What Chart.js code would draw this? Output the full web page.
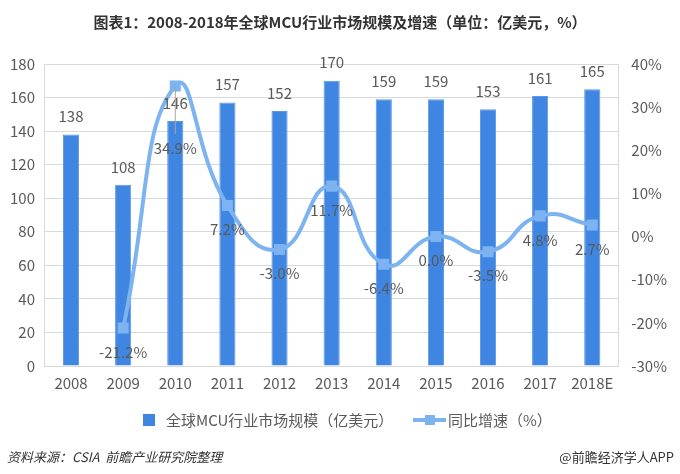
<!DOCTYPE html>
<html>
<head>
<meta charset="utf-8">
<script src="https://cdn.jsdelivr.net/npm/chart.js@4/dist/chart.umd.min.js"></script>
<style>
  html, body { margin: 0; padding: 0; background: #fff; }
  #wrap { position: relative; width: 680px; height: 474px; }
</style>
</head>
<body>
<div id="wrap"><canvas id="c" width="680" height="474"></canvas></div>
<script>
const years = ["2008", "2009", "2010", "2011", "2012", "2013", "2014", "2015", "2016", "2017", "2018E"];
const marketSize = [138, 108, 146, 157, 152, 170, 159, 159, 153, 161, 165];
const growthRate = [null, -21.2, 34.9, 7.2, -3.0, 11.7, -6.4, 0.0, -3.5, 4.8, 2.7];
const leftTicks = [0, 20, 40, 60, 80, 100, 120, 140, 160, 180];
const rightTicks = [-30, -20, -10, 0, 10, 20, 30, 40];

const FONT = '"Microsoft YaHei", "Noto Sans CJK SC", sans-serif';
const BAR = "#3f86e2";
const LINE = "#7db3f0";
const TXT = "#595959";

const extras = {
  id: "extras",
  afterDatasetsDraw(chart) {
    const ctx = chart.ctx;
    ctx.save();
    ctx.font = "15px " + FONT;
    ctx.fillStyle = TXT;
    ctx.textAlign = "center";
    ctx.textBaseline = "middle";
    // bar value labels (bars are dataset 1)
    chart.getDatasetMeta(1).data.forEach((el, i) => {
      ctx.fillText(String(marketSize[i]), el.x, el.y - 18);
    });
    // growth labels, under the points
    chart.getDatasetMeta(0).data.forEach((el, i) => {
      const v = growthRate[i];
      if (v === null) return;
      let off = 24;
      if (i === 2) {
        off = 62;
        ctx.strokeStyle = "#a6a6a6";
        ctx.lineWidth = 1;
        ctx.beginPath();
        ctx.moveTo(el.x, el.y);
        ctx.lineTo(el.x, el.y + off - 14);
        ctx.stroke();
      }
      ctx.fillStyle = TXT;
      ctx.fillText(v.toFixed(1) + "%", el.x, el.y + off);
    });
    ctx.restore();
  },
  afterDraw(chart) {
    const ctx = chart.ctx;
    ctx.save();
    // title
    ctx.fillStyle = "#333";
    ctx.font = "bold 15px " + FONT;
    ctx.textAlign = "center";
    ctx.textBaseline = "middle";
    ctx.fillText("图表1：2008-2018年全球MCU行业市场规模及增速（单位：亿美元，%）", 340, 22);

    // legend
    const ly = 420;
    ctx.font = "15px " + FONT;
    ctx.textAlign = "left";
    ctx.fillStyle = BAR;
    ctx.fillRect(143, ly - 6, 12, 12);
    ctx.fillStyle = TXT;
    ctx.fillText("全球MCU行业市场规模（亿美元）", 166, ly);
    ctx.strokeStyle = LINE;
    ctx.lineWidth = 4;
    ctx.beginPath();
    ctx.moveTo(413, ly);
    ctx.lineTo(446, ly);
    ctx.stroke();
    ctx.fillStyle = LINE;
    ctx.fillRect(425, ly - 5, 10, 10);
    ctx.fillStyle = TXT;
    ctx.fillText("同比增速（%）", 448, ly);

    // footer
    ctx.fillStyle = "#333";
    ctx.font = "italic 13px " + FONT;
    ctx.fillText("资料来源：CSIA  前瞻产业研究院整理", 7, 457);
    ctx.font = "13px " + FONT;
    ctx.textAlign = "right";
    ctx.fillText("@前瞻经济学人APP", 674, 457);
    ctx.restore();
  }
};

new Chart(document.getElementById("c"), {
  data: {
    labels: years,
    datasets: [
      {
        type: "line",
        label: "同比增速（%）",
        data: growthRate,
        yAxisID: "y1",
        borderColor: LINE,
        backgroundColor: LINE,
        borderWidth: 4,
        tension: 0.5,
        pointStyle: "rect",
        pointRadius: 5,
        pointHoverRadius: 5,
        spanGaps: true,
        order: 0
      },
      {
        type: "bar",
        label: "全球MCU行业市场规模（亿美元）",
        data: marketSize,
        yAxisID: "y",
        backgroundColor: BAR,
        borderColor: "#5b97e6",
        borderWidth: 1,
        barPercentage: 0.62,
        categoryPercentage: 0.5,
        order: 1
      }
    ]
  },
  options: {
    responsive: false,
    animation: false,
    layout: { padding: { top: 64, bottom: 74, left: 0, right: 0 } },
    plugins: {
      legend: { display: false },
      tooltip: { enabled: false }
    },
    scales: {
      x: {
        grid: { display: false, drawTicks: false },
        border: { color: "#d9d9d9" },
        ticks: { color: TXT, font: { size: 15, family: FONT }, padding: 8 }
      },
      y: {
        position: "left",
        min: 0,
        max: 180,
        afterBuildTicks: (axis) => { axis.ticks = leftTicks.map(v => ({ value: v })); },
        grid: { color: "#d9d9d9", drawTicks: false },
        border: { display: true, color: "#d9d9d9" },
        ticks: { color: TXT, font: { size: 15, family: FONT }, padding: 10 }
      },
      y1: {
        position: "right",
        min: -30,
        max: 40,
        afterBuildTicks: (axis) => { axis.ticks = rightTicks.map(v => ({ value: v })); },
        grid: { display: false, drawTicks: false },
        border: { display: true, color: "#d9d9d9" },
        ticks: {
          color: TXT,
          font: { size: 15, family: FONT },
          padding: 13,
          callback: (v) => v + "%"
        }
      }
    }
  },
  plugins: [extras]
});
</script>
</body>
</html>
